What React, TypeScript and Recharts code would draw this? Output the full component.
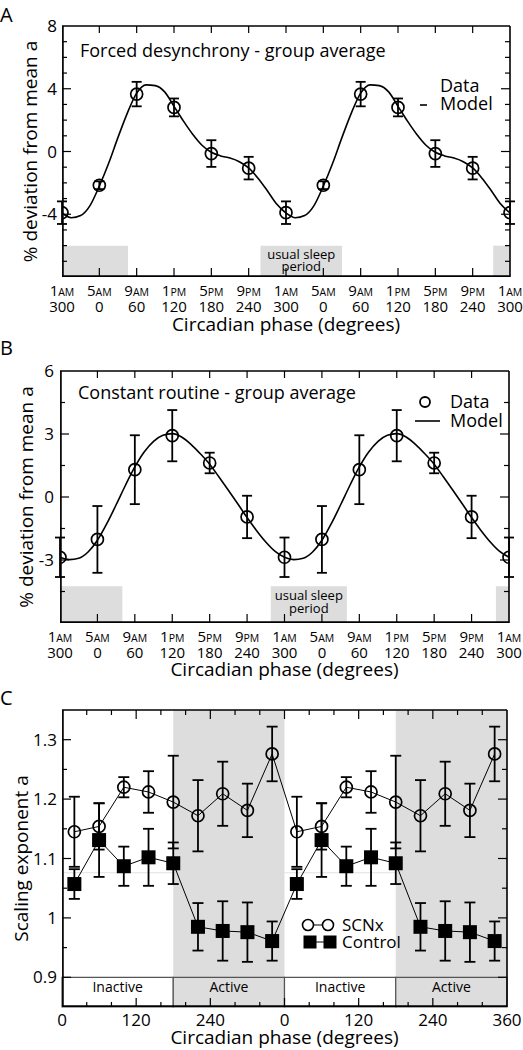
import React, { useEffect, useState } from 'react';
import {
    ComposedChart,
    Line,
    Scatter,
    XAxis,
    YAxis,
    ErrorBar,
    ReferenceArea,
    ReferenceLine,
    Label,
} from 'recharts';

const FONT = '"Open Sans", "DejaVu Sans", sans-serif';
const GREY = '#dddddd';

// ---- panels A and B: x axis (unwrapped circadian phase, one tick every 4 h)
const phaseTicks = [-60, 0, 60, 120, 180, 240, 300, 360, 420, 480, 540, 600, 660];
const clockHour = ['1', '5', '9', '1', '5', '9', '1', '5', '9', '1', '5', '9', '1'];
const clockHalf = ['AM', 'AM', 'AM', 'PM', 'PM', 'PM', 'AM', 'AM', 'AM', 'PM', 'PM', 'PM', 'AM'];
const phaseLabels = ['300', '0', '60', '120', '180', '240', '300', '0', '60', '120', '180', '240', '300'];

// ---- panel A: forced desynchrony
const fdMean = [-3.9, -2.15, 3.66, 2.81, -0.13, -1.06, -3.9, -2.15, 3.66, 2.81, -0.13, -1.06, -3.9];
const fdErr = [0.72, 0.25, 0.78, 0.57, 0.85, 0.72, 0.72, 0.25, 0.78, 0.57, 0.85, 0.72, 0.72];
const modelPhase = [
    -60, -45, -30, -15, 0, 15, 30, 45, 60, 75, 90, 105, 120, 135, 150, 165, 180, 195, 210, 225, 240,
    255, 270, 285, 300, 315, 330, 345, 360, 375, 390, 405, 420, 435, 450, 465, 480, 495, 510, 525,
    540, 555, 570, 585, 600, 615, 630, 645, 660,
];
const fdModel = [
    -3.92, -4.22, -4.08, -3.45, -2.2, -0.75, 0.9, 2.45, 3.72, 4.25, 4.2, 3.8, 2.88, 1.95, 1.1, 0.4,
    -0.05, -0.28, -0.42, -0.65, -1.05, -1.7, -2.5, -3.35, -3.92, -4.22, -4.08, -3.45, -2.2, -0.75,
    0.9, 2.45, 3.72, 4.25, 4.2, 3.8, 2.88, 1.95, 1.1, 0.4, -0.05, -0.28, -0.42, -0.65, -1.05, -1.7,
    -2.5, -3.35, -3.92,
];
const fdSleep = [[-60, 46], [259, 390], [633, 660]];
const fdMajorY = [-4, 0, 4];
const fdMinorY = [-7, -6, -5, -3, -2, -1, 1, 2, 3, 5, 6, 7];

// ---- panel B: constant routine
const crMean = [-2.87, -2.02, 1.3, 2.92, 1.62, -0.95, -2.87, -2.02, 1.3, 2.92, 1.62, -0.95, -2.87];
const crErr = [0.94, 1.59, 1.64, 1.22, 0.49, 1.01, 0.94, 1.59, 1.64, 1.22, 0.49, 1.01, 0.94];
const crModel = [
    -2.87, -2.98, -2.92, -2.62, -2.06, -1.27, -0.37, 0.56, 1.43, 2.14, 2.65, 2.94, 3.02, 2.86, 2.51,
    2.06, 1.56, 0.95, 0.32, -0.32, -0.98, -1.59, -2.14, -2.59, -2.87, -2.98, -2.92, -2.62, -2.06,
    -1.27, -0.37, 0.56, 1.43, 2.14, 2.65, 2.94, 3.02, 2.86, 2.51, 2.06, 1.56, 0.95, 0.32, -0.32,
    -0.98, -1.59, -2.14, -2.59, -2.87,
];
const crSleep = [[-60, 40], [278, 400], [639, 660]];
const crMajorY = [-3, 0, 3];
const crMinorY = [-4.5, -1.5, 1.5, 4.5];

// ---- panel C: rat data, two cycles of 0-360
const ratPhase = [20, 60, 100, 140, 180, 220, 260, 300, 340, 380, 420, 460, 500, 540, 580, 620, 660, 700];
const scnx = [1.145, 1.154, 1.22, 1.212, 1.195, 1.172, 1.209, 1.181, 1.276, 1.145, 1.154, 1.22, 1.212, 1.195, 1.172, 1.209, 1.181, 1.276];
const scnxErr = [0.059, 0.039, 0.017, 0.035, 0.078, 0.06, 0.054, 0.045, 0.046, 0.059, 0.039, 0.017, 0.035, 0.078, 0.06, 0.054, 0.045, 0.046];
const control = [1.057, 1.131, 1.087, 1.102, 1.092, 0.985, 0.978, 0.976, 0.961, 1.057, 1.131, 1.087, 1.102, 1.092, 0.985, 0.978, 0.976, 0.961];
const controlErr = [0.025, 0.062, 0.033, 0.048, 0.035, 0.04, 0.05, 0.05, 0.033, 0.025, 0.062, 0.033, 0.048, 0.035, 0.04, 0.05, 0.05, 0.033];
const ratTicks = [0, 120, 240, 360, 480, 600, 720];
const ratTickLabels = ['0', '120', '240', '0', '120', '240', '360'];
const ratMinorTicks = [40, 80, 160, 200, 280, 320, 400, 440, 520, 560, 640, 680];
const ratMajorY = [0.9, 1, 1.1, 1.2, 1.3];
const ratMinorY = [0.95, 1.05, 1.15, 1.25];
const activity = [
    { from: 0, to: 180, name: 'Inactive', active: false },
    { from: 180, to: 360, name: 'Active', active: true },
    { from: 360, to: 540, name: 'Inactive', active: false },
    { from: 540, to: 720, name: 'Active', active: true },
];

const fdPoints = phaseTicks.map((x, i) => ({ x, v: fdMean[i], e: fdErr[i] }));
const fdLine = modelPhase.map((x, i) => ({ x, v: fdModel[i] }));
const crPoints = phaseTicks.map((x, i) => ({ x, v: crMean[i], e: crErr[i] }));
const crLine = modelPhase.map((x, i) => ({ x, v: crModel[i] }));
const ratRows = ratPhase.map((x, i) => ({
    x,
    scnx: scnx[i],
    scnxErr: scnxErr[i],
    control: control[i],
    controlErr: controlErr[i],
}));

const ClockTick = (props: any) => {
    const { x, y, payload } = props;
    const i = phaseTicks.indexOf(payload.value);
    return (
        <g>
            <text x={x} y={y + 19} textAnchor="middle" fontFamily={FONT} fontSize={15} fill="#000">
                {clockHour[i]}
                <tspan fontSize={10.5}>{clockHalf[i]}</tspan>
            </text>
            <text x={x} y={y + 35} textAnchor="middle" fontFamily={FONT} fontSize={15} fill="#000">
                {phaseLabels[i]}
            </text>
        </g>
    );
};

const RatTick = (props: any) => {
    const { x, y, payload } = props;
    const i = ratTicks.indexOf(payload.value);
    return (
        <text x={x} y={y + 19} textAnchor="middle" fontFamily={FONT} fontSize={17} fill="#000">
            {ratTickLabels[i]}
        </text>
    );
};

const SleepLabel = (props: any) => {
    const { viewBox, dy } = props;
    const cx = viewBox.x + viewBox.width / 2;
    return (
        <text textAnchor="middle" fontFamily={FONT} fontSize={13} fill="#000">
            <tspan x={cx} y={viewBox.y + dy}>usual sleep</tspan>
            <tspan x={cx} y={viewBox.y + dy + 12.5}>period</tspan>
        </text>
    );
};

const openCircle = (p: any) => (
    <circle key={`c${p.index}`} cx={p.cx} cy={p.cy} r={6} fill="none" stroke="#000" strokeWidth={1.7} />
);
const filledSquare = (p: any) => (
    <rect key={`s${p.index}`} x={p.cx - 7} y={p.cy - 7} width={14} height={14} fill="#000" />
);

const axisTitle = { fontFamily: FONT, fontSize: 19, fill: '#000' };
const yTick = { fontFamily: FONT, fontSize: 17, fill: '#000' };

// plot frame and inward tick marks on all four sides, drawn as reference
// segments on the panel's own scales (lengths given in pixels)
function frameMarks(
    rev: number,
    xDomain: number[],
    yDomain: number[],
    plotW: number,
    plotH: number,
    xTicks: [number[], number, number][],
    yTicks: [number[], number][],
) {
    const [x0, x1] = xDomain;
    const [y0, y1] = yDomain;
    const dxPx = (x1 - x0) / plotW;
    const dyPx = (y1 - y0) / plotH;
    const common = { xAxisId: 'x', yAxisId: 'y', ifOverflow: 'visible' as const, className: `rev${rev}` };
    // the left and bottom edges sit just inside the plot so the axes cannot hide them
    const out: React.ReactNode[] = [
        <ReferenceLine key="edge-l" {...common} x={x0 + 0.9 * dxPx} stroke="#000" strokeWidth={1.7} />,
        <ReferenceLine key="edge-r" {...common} x={x1} stroke="#000" strokeWidth={1.6} />,
        <ReferenceLine key="edge-b" {...common} y={y0 + 0.9 * dyPx} stroke="#000" strokeWidth={1.7} />,
        <ReferenceLine key="edge-t" {...common} y={y1} stroke="#000" strokeWidth={1.6} />,
    ];
    xTicks.forEach(([values, bottomLen, topLen], g) => {
        values.forEach((v) => {
            out.push(
                <ReferenceLine key={`xb${g}-${v}`} {...common} segment={[{ x: v, y: y0 }, { x: v, y: y0 + bottomLen * dyPx }]} stroke="#000" strokeWidth={1.2} />,
                <ReferenceLine key={`xt${g}-${v}`} {...common} segment={[{ x: v, y: y1 }, { x: v, y: y1 - topLen * dyPx }]} stroke="#000" strokeWidth={1.2} />,
            );
        });
    });
    yTicks.forEach(([values, len], g) => {
        values.forEach((v) => {
            out.push(
                <ReferenceLine key={`yl${g}-${v}`} {...common} segment={[{ x: x0, y: v }, { x: x0 + len * dxPx, y: v }]} stroke="#000" strokeWidth={1.2} />,
                <ReferenceLine key={`yr${g}-${v}`} {...common} segment={[{ x: x1, y: v }, { x: x1 - len * dxPx, y: v }]} stroke="#000" strokeWidth={1.2} />,
            );
        });
    });
    return out;
}

function PanelA({ rev }: { rev: number }) {
    return (
        <ComposedChart width={523} height={340} data={fdLine} margin={{ top: 26, right: 13, bottom: 0, left: 0 }} className={`rev${rev}`}>
            {fdSleep.map(([a, b], i) => (
                <ReferenceArea key={i} xAxisId="x" yAxisId="y" x1={a} x2={b} y1={-8} y2={-6} fill={GREY} fillOpacity={1} stroke="none" className={`rev${rev}`}>
                    {i === 1 && <Label content={(p: any) => <SleepLabel {...p} dy={13} />} />}
                </ReferenceArea>
            ))}
            <XAxis xAxisId="x" dataKey="x" type="number" domain={[-60, 660]} ticks={phaseTicks} interval={0} allowDataOverflow tick={<ClockTick />} tickLine={false} axisLine={false} tickSize={0} tickMargin={0} height={63} className={`rev${rev}`}>
                <Label value="Circadian phase (degrees)" position="insideBottom" offset={9} style={axisTitle} />
            </XAxis>
            <YAxis yAxisId="y" type="number" domain={[-8, 8]} ticks={[-4, 0, 4, 8]} interval={0} allowDataOverflow tick={yTick} tickLine={false} axisLine={false} tickSize={0} tickMargin={5} width={62} className={`rev${rev}`}>
                <Label value="% deviation from mean a" angle={-90} position="insideLeft" offset={30} style={{ ...axisTitle, textAnchor: 'middle' }} />
            </YAxis>
            {frameMarks(rev, [-60, 660], [-8, 8], 448, 251, [[phaseTicks.slice(1, -1), 9, 7]], [[fdMajorY, 9], [fdMinorY, 5]])}
            <Line xAxisId="x" yAxisId="y" dataKey="v" type="monotone" stroke="#000" strokeWidth={1.6} dot={false} isAnimationActive={false} />
            <Scatter xAxisId="x" yAxisId="y" data={fdPoints} dataKey="v" shape={openCircle} isAnimationActive={false}>
                <ErrorBar dataKey="e" direction="y" width={5} stroke="#000" strokeWidth={1.8} isAnimationActive={false} />
            </Scatter>
        </ComposedChart>
    );
}

function PanelB({ rev }: { rev: number }) {
    return (
        <ComposedChart width={523} height={345} data={crLine} margin={{ top: 31, right: 14, bottom: 0, left: 0 }} className={`rev${rev}`}>
            {crSleep.map(([a, b], i) => (
                <ReferenceArea key={i} xAxisId="x" yAxisId="y" x1={a} x2={b} y1={-6} y2={-4.25} fill={GREY} fillOpacity={1} stroke="none" className={`rev${rev}`}>
                    {i === 1 && <Label content={(p: any) => <SleepLabel {...p} dy={14} />} />}
                </ReferenceArea>
            ))}
            <XAxis xAxisId="x" dataKey="x" type="number" domain={[-60, 660]} ticks={phaseTicks} interval={0} allowDataOverflow tick={<ClockTick />} tickLine={false} axisLine={false} tickSize={0} tickMargin={0} height={62} className={`rev${rev}`}>
                <Label value="Circadian phase (degrees)" position="insideBottom" offset={9} style={axisTitle} />
            </XAxis>
            <YAxis yAxisId="y" type="number" domain={[-6, 6]} ticks={[-3, 0, 3, 6]} interval={0} allowDataOverflow tick={yTick} tickLine={false} axisLine={false} tickSize={0} tickMargin={6} width={60} className={`rev${rev}`}>
                <Label value="% deviation from mean a" angle={-90} position="insideLeft" offset={26} style={{ ...axisTitle, textAnchor: 'middle' }} />
            </YAxis>
            {frameMarks(rev, [-60, 660], [-6, 6], 449, 252, [[phaseTicks.slice(1, -1), 9, 7]], [[crMajorY, 9], [crMinorY, 5]])}
            <Line xAxisId="x" yAxisId="y" dataKey="v" type="monotone" stroke="#000" strokeWidth={1.6} dot={false} isAnimationActive={false} />
            <Scatter xAxisId="x" yAxisId="y" data={crPoints} dataKey="v" shape={openCircle} isAnimationActive={false}>
                <ErrorBar dataKey="e" direction="y" width={5} stroke="#000" strokeWidth={1.8} isAnimationActive={false} />
            </Scatter>
        </ComposedChart>
    );
}

function PanelC({ rev }: { rev: number }) {
    return (
        <ComposedChart width={523} height={365} data={ratRows} margin={{ top: 25, right: 16, bottom: 0, left: 0 }} className={`rev${rev}`}>
            {activity.filter((a) => a.active).map((a) => (
                <ReferenceArea key={`bg${a.from}`} xAxisId="x" yAxisId="y" x1={a.from} x2={a.to} y1={0.85} y2={1.35} fill={GREY} fillOpacity={1} stroke="none" className={`rev${rev}`} />
            ))}
            {activity.filter((a) => !a.active).map((a) => (
                <ReferenceLine key={`faint${a.from}`} xAxisId="x" yAxisId="y" segment={[{ x: a.from, y: 1.076 }, { x: a.to, y: 1.076 }]} stroke="#e2e2e2" strokeWidth={1.2} ifOverflow="visible" className={`rev${rev}`} />
            ))}
            {activity.map((a) => (
                <ReferenceArea key={`band${a.from}`} xAxisId="x" yAxisId="y" x1={a.from} x2={a.to} y1={0.85} y2={0.9} fill={a.active ? GREY : '#fff'} fillOpacity={1} stroke="#555" strokeWidth={1.2} className={`rev${rev}`}>
                    <Label value={a.name} position="insideTop" offset={5} style={{ fontFamily: FONT, fontSize: 14, fill: '#000' }} />
                </ReferenceArea>
            ))}
            <XAxis xAxisId="x" dataKey="x" type="number" domain={[0, 720]} ticks={ratTicks} interval={0} allowDataOverflow tick={<RatTick />} tickLine={false} axisLine={false} tickSize={0} tickMargin={0} height={43} className={`rev${rev}`}>
                <Label value="Circadian phase (degrees)" position="insideBottom" offset={6} style={axisTitle} />
            </XAxis>
            <YAxis yAxisId="y" type="number" domain={[0.85, 1.35]} ticks={ratMajorY} interval={0} allowDataOverflow tick={yTick} tickLine={false} axisLine={false} tickSize={0} tickMargin={5} width={62} className={`rev${rev}`}>
                <Label value="Scaling exponent a" angle={-90} position="insideLeft" offset={21} style={{ ...axisTitle, textAnchor: 'middle' }} />
            </YAxis>
            {frameMarks(rev, [0, 720], [0.85, 1.35], 445, 297, [[ratTicks.slice(1, -1), 9, 9], [ratMinorTicks, 5, 5]], [[ratMajorY, 9], [ratMinorY, 5]])}
            <Line xAxisId="x" yAxisId="y" dataKey="scnx" type="linear" stroke="#000" strokeWidth={1} dot={openCircle} activeDot={false} isAnimationActive={false}>
                <ErrorBar dataKey="scnxErr" direction="y" width={5.5} stroke="#000" strokeWidth={1.8} isAnimationActive={false} />
            </Line>
            <Line xAxisId="x" yAxisId="y" dataKey="control" type="linear" stroke="#000" strokeWidth={1} dot={filledSquare} activeDot={false} isAnimationActive={false}>
                <ErrorBar dataKey="controlErr" direction="y" width={5.5} stroke="#000" strokeWidth={1.8} isAnimationActive={false} />
            </Line>
        </ComposedChart>
    );
}

function Overlay() {
    const t = { fontFamily: FONT, fill: '#000' };
    return (
        <svg width={523} height={1050} style={{ position: 'absolute', left: 0, top: 0, pointerEvents: 'none' }}>
            <text x={0} y={22} fontSize={20} {...t}>A</text>
            <text x={0} y={355} fontSize={20} {...t}>B</text>
            <text x={0} y={705} fontSize={20} {...t}>C</text>

            <text x={80} y={57} fontSize={18} {...t}>Forced desynchrony - group average</text>
            <text x={440} y={92} fontSize={18} {...t}>Data</text>
            <line x1={420} x2={427} y1={105} y2={105} stroke="#000" strokeWidth={1.6} />
            <text x={440} y={110} fontSize={18} {...t}>Model</text>

            <text x={78} y={399} fontSize={18} {...t}>Constant routine - group average</text>
            <circle cx={425} cy={402} r={5} fill="none" stroke="#000" strokeWidth={1.8} />
            <text x={450} y={408} fontSize={18} {...t}>Data</text>
            <line x1={415} x2={440} y1={421} y2={421} stroke="#000" strokeWidth={1.6} />
            <text x={450} y={427} fontSize={18} {...t}>Model</text>

            <line x1={308} x2={328} y1={925} y2={925} stroke="#000" strokeWidth={1} />
            <circle cx={308} cy={925} r={5.5} fill="#fff" stroke="#000" strokeWidth={1.6} />
            <circle cx={328} cy={925} r={5.5} fill="#fff" stroke="#000" strokeWidth={1.6} />
            <text x={342} y={931} fontSize={17} {...t}>SCNx</text>
            <line x1={310} x2={330} y1={942} y2={942} stroke="#000" strokeWidth={1} />
            <rect x={303.5} y={935.5} width={13} height={13} fill="#000" />
            <rect x={323.5} y={935.5} width={13} height={13} fill="#000" />
            <text x={342} y={948} fontSize={17} {...t}>Control</text>
        </svg>
    );
}

export default function App() {
    // one extra render after mount so every layer of the charts is in place
    const [rev, setRev] = useState(0);
    useEffect(() => {
        const a = setTimeout(() => setRev(1), 0);
        const b = setTimeout(() => setRev(2), 120);
        return () => {
            clearTimeout(a);
            clearTimeout(b);
        };
    }, []);
    return (
        <div style={{ position: 'absolute', left: 0, top: 0, width: 523, height: 1050, background: '#fff', overflow: 'hidden' }}>
            <div style={{ position: 'absolute', left: 0, top: 0 }}>
                <PanelA rev={rev} />
            </div>
            <div style={{ position: 'absolute', left: 0, top: 340 }}>
                <PanelB rev={rev} />
            </div>
            <div style={{ position: 'absolute', left: 0, top: 685 }}>
                <PanelC rev={rev} />
            </div>
            <Overlay />
        </div>
    );
}
